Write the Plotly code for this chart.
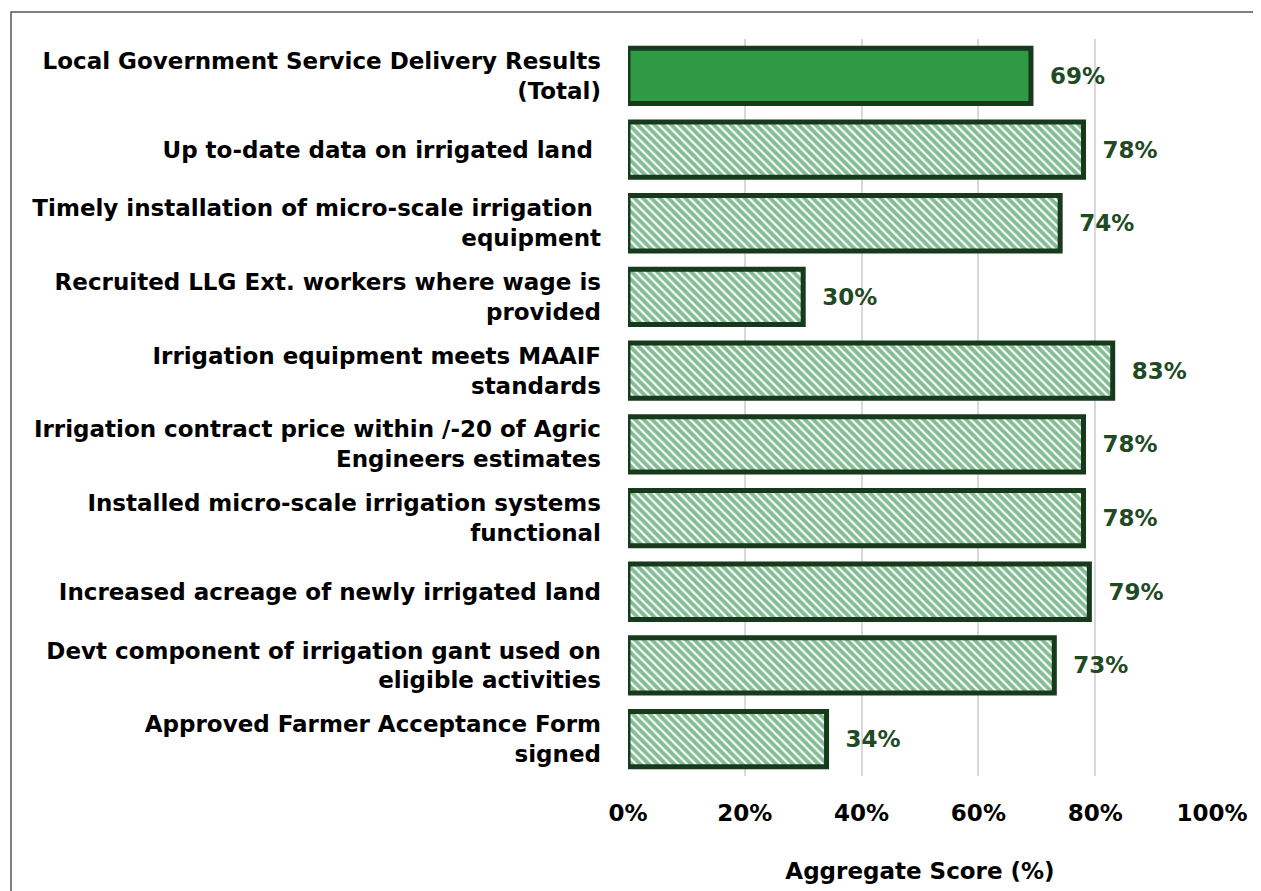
import plotly.graph_objects as go

# indicator labels (top to bottom)
categories = [
    "Local Government Service Delivery Results<br>(Total)",
    "Up to-date data on irrigated land ",
    "Timely installation of micro-scale irrigation <br>equipment",
    "Recruited LLG Ext. workers where wage is<br>provided",
    "Irrigation equipment meets MAAIF<br>standards",
    "Irrigation contract price within /-20 of Agric<br>Engineers estimates",
    "Installed micro-scale irrigation systems<br>functional",
    "Increased acreage of newly irrigated land",
    "Devt component of irrigation gant used on<br>eligible activities",
    "Approved Farmer Acceptance Form<br>signed",
]
scores = [69, 78, 74, 30, 83, 78, 78, 79, 73, 34]
x_ticks = [0, 20, 40, 60, 80, 100]
x_tick_text = ["0%", "20%", "40%", "60%", "80%", "100%"]

green = "#2e9a46"
dark = "#163a1b"
font_family = "DejaVu Sans"
fs = 23

fig = go.Figure()
# total bar: solid fill
fig.add_trace(go.Bar(
    x=scores[:1], y=categories[:1], orientation="h",
    marker=dict(color=green, line=dict(color=dark, width=5)),
    text=[f"<b>  {v}%</b>" for v in scores[:1]],
    texttemplate="%{text}", textposition="outside",
    textfont=dict(family=font_family, size=fs, color="#1f4a23"),
    cliponaxis=False,
))
# individual indicators: hatched fill
fig.add_trace(go.Bar(
    x=scores[1:], y=categories[1:], orientation="h",
    marker=dict(
        color="white",
        line=dict(color=dark, width=5),
        pattern=dict(shape="\\", fgcolor="#0a7a2a", bgcolor="white",
                     size=6, solidity=0.65, fillmode="overlay"),
    ),
    text=[f"<b>  {v}%</b>" for v in scores[1:]],
    texttemplate="%{text}", textposition="outside",
    textfont=dict(family=font_family, size=fs, color="#1f4a23"),
    cliponaxis=False,
))

fig.update_layout(
    width=1261, height=891,
    margin=dict(l=620, r=57, t=31, b=123, autoexpand=False),
    plot_bgcolor="white", paper_bgcolor="white",
    barmode="overlay",
    bargap=0.25,
    showlegend=False,
    font=dict(family=font_family, size=fs, color="black"),
)
fig.update_xaxes(
    range=[0, 100], tickvals=x_ticks,
    ticktext=[f"<b>{t}</b>" for t in x_tick_text],
    showgrid=True, gridcolor="#d9d9d9", gridwidth=2,
    zeroline=False, showline=False, automargin=False,
    tickfont=dict(family=font_family, size=fs, color="black"),
    title=dict(text="<b>Aggregate Score (%)</b>", standoff=37,
               font=dict(family=font_family, size=fs, color="black")),
    ticklabelstandoff=21,
)
fig.update_yaxes(
    autorange="reversed", automargin=False,
    categoryorder="array", categoryarray=categories,
    showgrid=False, showline=False,
    tickvals=categories,
    ticktext=[f"<b>{c}</b>" for c in categories],
    tickfont=dict(family=font_family, size=fs, color="black"),
    ticklabelstandoff=26,
)

# outer chart border (cut at right/bottom of the picture)
fig.add_shape(type="rect", xref="paper", yref="paper",
              x0=(3 - 620) / 584, x1=(1275 - 620) / 584,
              y0=-200 / 737, y1=1 + (31 - 4) / 737,
              line=dict(color="#555555", width=1.5), layer="below")

fig.write_html("out.html")
